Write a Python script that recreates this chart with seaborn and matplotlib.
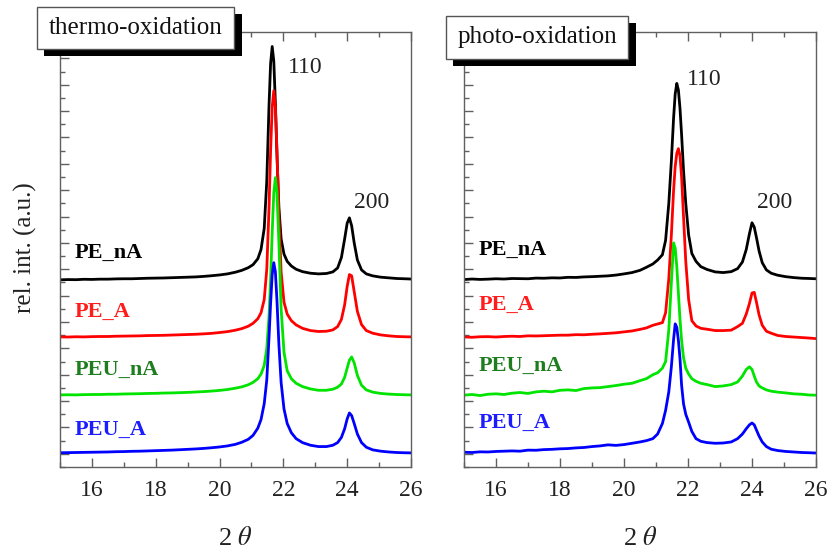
import numpy as np
import pandas as pd
import matplotlib
matplotlib.use("Agg")
import matplotlib.pyplot as plt
from matplotlib.patches import Rectangle
from matplotlib.ticker import MultipleLocator
import seaborn as sns

# 2-theta grid shared by all patterns (denser around the 110 and 200 reflections)
two_theta = [15.0, 15.25, 15.5, 15.75, 16.0, 16.25, 16.5, 16.75, 17.0, 17.25,
             17.5, 17.75, 18.0, 18.25, 18.5, 18.75, 19.0, 19.25, 19.5, 19.75,
             20.0, 20.25, 20.5, 20.7, 20.9, 21.05, 21.2, 21.3, 21.4, 21.48,
             21.55, 21.6, 21.65, 21.7, 21.75, 21.8, 21.86, 21.93, 22.02, 22.12,
             22.25, 22.4, 22.6, 22.85, 23.1, 23.35, 23.55, 23.7, 23.82, 23.92,
             24.0, 24.07, 24.14, 24.22, 24.32, 24.45, 24.6, 24.8, 25.05, 25.3,
             25.55, 25.8, 26.0]

samples = ["PE_nA", "PE_A", "PEU_nA", "PEU_A"]
offsets = [13.2, 8.8, 4.4, 0.0]

# thermo-oxidation, intensity above each trace's offset
thermo_pe_na = [0.00, 0.02, 0.01, 0.04, 0.03, 0.05, 0.05, 0.07, 0.08, 0.08,
                0.10, 0.12, 0.13, 0.14, 0.16, 0.18, 0.20, 0.22, 0.26, 0.31,
                0.37, 0.45, 0.58, 0.72, 0.92, 1.15, 1.6, 2.3, 3.9, 7.5,
                13.2, 16.4, 17.7, 16.6, 13.4, 9.4, 5.5, 3.1, 1.95, 1.4,
                1.05, 0.8, 0.62, 0.5, 0.45, 0.48, 0.6, 0.9, 1.7, 3.1,
                4.3, 4.7, 4.1, 2.8, 1.5, 0.75, 0.45, 0.3, 0.2, 0.15,
                0.1, 0.08, 0.06]
thermo_pe_a = [0.07, 0.06, 0.08, 0.07, 0.09, 0.10, 0.10, 0.12, 0.13, 0.14,
               0.15, 0.17, 0.18, 0.19, 0.21, 0.23, 0.25, 0.27, 0.30, 0.34,
               0.40, 0.47, 0.58, 0.7, 0.88, 1.1, 1.45, 1.9, 2.9, 5.2,
               9.8, 14.2, 17.5, 18.75, 17.5, 14.2, 9.2, 5.0, 2.7, 1.8,
               1.3, 0.98, 0.72, 0.55, 0.48, 0.5, 0.6, 0.85, 1.4, 2.5,
               3.9, 4.8, 4.7, 3.5, 2.0, 1.0, 0.55, 0.35, 0.22, 0.15,
               0.1, 0.08, 0.07]
thermo_peu_na = [0.07, 0.08, 0.07, 0.09, 0.10, 0.10, 0.12, 0.12, 0.14, 0.15,
                 0.16, 0.18, 0.19, 0.21, 0.22, 0.24, 0.26, 0.29, 0.32, 0.36,
                 0.41, 0.48, 0.58, 0.68, 0.84, 1.02, 1.3, 1.65, 2.3, 3.6,
                 6.0, 8.8, 12.4, 15.4, 16.55, 15.4, 11.6, 6.6, 3.3, 1.9,
                 1.3, 0.95, 0.7, 0.52, 0.42, 0.42, 0.5, 0.65, 0.9, 1.4,
                 2.1, 2.7, 2.95, 2.5, 1.55, 0.8, 0.45, 0.28, 0.18, 0.13,
                 0.1, 0.08, 0.07]
thermo_peu_a = [0.08, 0.09, 0.10, 0.11, 0.12, 0.13, 0.14, 0.16, 0.17, 0.19,
                0.2, 0.22, 0.24, 0.26, 0.28, 0.31, 0.34, 0.37, 0.41, 0.46,
                0.52, 0.6, 0.72, 0.88, 1.1, 1.4, 1.95, 2.6, 3.8, 5.6,
                8.8, 11.4, 13.6, 14.5, 13.8, 11.6, 8.3, 5.4, 3.4, 2.3,
                1.6, 1.15, 0.85, 0.65, 0.55, 0.55, 0.65, 0.85, 1.25, 1.9,
                2.65, 3.1, 2.9, 2.3, 1.5, 0.85, 0.5, 0.3, 0.2, 0.14,
                0.1, 0.08, 0.07]

# photo-oxidation
photo_pe_na = [0.02, 0.06, 0.03, 0.05, 0.08, 0.06, 0.1, 0.09, 0.08, 0.13,
               0.12, 0.15, 0.14, 0.19, 0.18, 0.22, 0.24, 0.27, 0.3, 0.36,
               0.45, 0.55, 0.72, 0.95, 1.2, 1.5, 1.9, 3.0, 5.8, 9.0,
               12.3, 14.1, 14.9, 14.4, 13.0, 11.0, 8.3, 5.8, 3.4, 2.0,
               1.4, 1.0, 0.78, 0.6, 0.55, 0.62, 0.85, 1.35, 2.3, 3.5,
               4.33, 4.0, 3.2, 2.2, 1.3, 0.75, 0.5, 0.35, 0.24, 0.17,
               0.12, 0.1, 0.08]
photo_pe_a = [0.07, 0.04, 0.08, 0.09, 0.06, 0.1, 0.12, 0.1, 0.15, 0.14,
              0.16, 0.18, 0.2, 0.2, 0.24, 0.23, 0.27, 0.3, 0.34, 0.38,
              0.45, 0.52, 0.64, 0.75, 0.95, 1.05, 1.15, 1.9, 4.5, 7.8,
              11.2, 13.0, 14.0, 14.35, 13.8, 12.2, 9.2, 5.8, 2.9, 1.3,
              0.9, 0.72, 0.65, 0.55, 0.55, 0.58, 0.85, 1.1, 1.8, 2.6,
              3.4, 3.45, 2.7, 1.75, 0.95, 0.5, 0.35, 0.18, 0.1, 0.06,
              0.02, -0.02, -0.06]
photo_peu_na = [0.05, 0.1, 0.02, 0.12, 0.15, 0.1, 0.2, 0.25, 0.18, 0.3,
                0.35, 0.3, 0.42, 0.45, 0.4, 0.55, 0.6, 0.62, 0.7, 0.78,
                0.88, 0.95, 1.15, 1.3, 1.6, 1.75, 2.1, 2.6, 5.0, 8.6,
                11.6, 11.2, 9.8, 7.8, 5.8, 4.2, 2.9, 2.1, 1.65, 1.3,
                1.1, 0.95, 0.85, 0.7, 0.75, 0.85, 1.05, 1.5, 2.0, 2.2,
                2.0, 1.5, 1.05, 0.75, 0.6, 0.45, 0.35, 0.28, 0.22, 0.15,
                0.12, 0.06, 0.05]
photo_peu_a = [0.12, 0.1, 0.15, 0.14, 0.18, 0.2, 0.22, 0.2, 0.28, 0.27,
               0.32, 0.34, 0.38, 0.4, 0.45, 0.48, 0.55, 0.6, 0.68, 0.64,
               0.7, 0.8, 0.9, 1.0, 1.15, 1.5, 2.3, 3.3, 4.7, 6.6,
               8.7, 9.86, 9.6, 8.6, 7.2, 5.2, 3.8, 3.0, 2.4, 1.7,
               1.15, 0.95, 0.85, 0.8, 0.82, 0.9, 1.15, 1.5, 1.9, 2.2,
               2.34, 2.2, 1.8, 1.35, 0.9, 0.55, 0.35, 0.25, 0.18, 0.14,
               0.1, 0.08, 0.06]

thermo_curves = [thermo_pe_na, thermo_pe_a, thermo_peu_na, thermo_peu_a]
photo_curves = [photo_pe_na, photo_pe_a, photo_peu_na, photo_peu_a]

line_colors = ["#000000", "#ff0000", "#00e400", "#0000ff"]
text_colors = ["#000000", "#ff1c1c", "#1e7d1e", "#1c1cff"]

thermo_label_y = [15.25, 10.77, 6.37, 1.81]
photo_label_y = [15.48, 11.3, 6.67, 2.34]

sns.set_theme(style="ticks")
plt.rcParams["font.family"] = ["Liberation Serif", "DejaVu Serif"]
plt.rcParams["mathtext.fontset"] = "stix"

W, H = 832, 552
fig = plt.figure(figsize=(W / 100, H / 100), dpi=100)


def px_rect(x0, y0, x1, y1):
    # pixel box (origin top-left) -> figure fraction [left, bottom, width, height]
    return [x0 / W, 1 - y1 / H, (x1 - x0) / W, (y1 - y0) / H]


def panel_frame(curves):
    rows = []
    for name, off, vals in zip(samples, offsets, curves):
        for x, v in zip(two_theta, vals):
            rows.append((x, v + off, name))
    return pd.DataFrame(rows, columns=["two_theta", "intensity", "sample"])


ax_t = fig.add_axes(px_rect(60, 32, 411, 467))
ax_p = fig.add_axes(px_rect(464, 32, 816, 467))

spine_col = "#606060"
for ax, curves, lab_y in [(ax_t, thermo_curves, thermo_label_y),
                          (ax_p, photo_curves, photo_label_y)]:
    df = panel_frame(curves)
    sns.lineplot(data=df, x="two_theta", y="intensity", hue="sample",
                 hue_order=samples, palette=line_colors, lw=2.0,
                 estimator=None, sort=False, legend=False, ax=ax)
    ax.set_xlim(15, 26)
    ax.set_ylim(-1, 32)
    ax.xaxis.set_major_locator(MultipleLocator(2))
    ax.xaxis.set_minor_locator(MultipleLocator(1))
    ax.yaxis.set_major_locator(MultipleLocator(2))
    ax.yaxis.set_minor_locator(MultipleLocator(1))
    ax.tick_params(axis="x", which="both", direction="in", top=True,
                   bottom=True, color=spine_col, width=1.0,
                   labelsize=17, labelcolor="#222222", pad=9)
    ax.tick_params(axis="y", which="both", direction="in", left=True,
                   right=False, labelleft=False, color=spine_col, width=1.0)
    ax.tick_params(which="major", length=6.5)
    ax.tick_params(which="minor", length=3.5)
    for sp in ax.spines.values():
        sp.set_color(spine_col)
        sp.set_linewidth(1.0)
    ax.set_xlabel(r"2 $\theta$", fontsize=19, color="#222222", labelpad=19)
    ax.set_ylabel("")
    for name, col, y in zip(samples, text_colors, lab_y):
        ax.text(15.46, y, name, color=col, fontsize=16, fontweight="bold",
                va="center", ha="left")

ax_t.text(22.15, 29.3, "110", fontsize=17, color="#222222", va="center")
ax_t.text(24.22, 19.1, "200", fontsize=17, color="#222222", va="center")
ax_p.text(21.97, 28.4, "110", fontsize=17, color="#222222", va="center")
ax_p.text(24.16, 19.05, "200", fontsize=17, color="#222222", va="center")

fig.text(25 / W, 1 - 248 / H, "rel. int. (a.u.)", rotation=90, fontsize=18,
         color="#222222", ha="center", va="center")

# title boxes with drop shadow
for (bx0, by0, bx1, by1), label in [((37, 7, 234, 49), "thermo-oxidation"),
                                    ((446, 16, 628, 59), "photo-oxidation")]:
    fig.add_artist(Rectangle(px_rect(bx0 + 7, by0 + 7, bx1 + 8, by1 + 7)[:2],
                             (bx1 - bx0 + 1) / W, (by1 - by0) / H,
                             transform=fig.transFigure, facecolor="black",
                             edgecolor="none", zorder=5))
    fig.add_artist(Rectangle(px_rect(bx0, by0, bx1, by1)[:2],
                             (bx1 - bx0) / W, (by1 - by0) / H,
                             transform=fig.transFigure, facecolor="white",
                             edgecolor="#555555", lw=1.0, zorder=6))
    fig.text((bx0 + bx1) / 2 / W, 1 - (by0 + by1) / 2 / H, label,
             fontsize=18, color="#111111", ha="center", va="center", zorder=7)

fig.savefig("out.png", dpi=100)
